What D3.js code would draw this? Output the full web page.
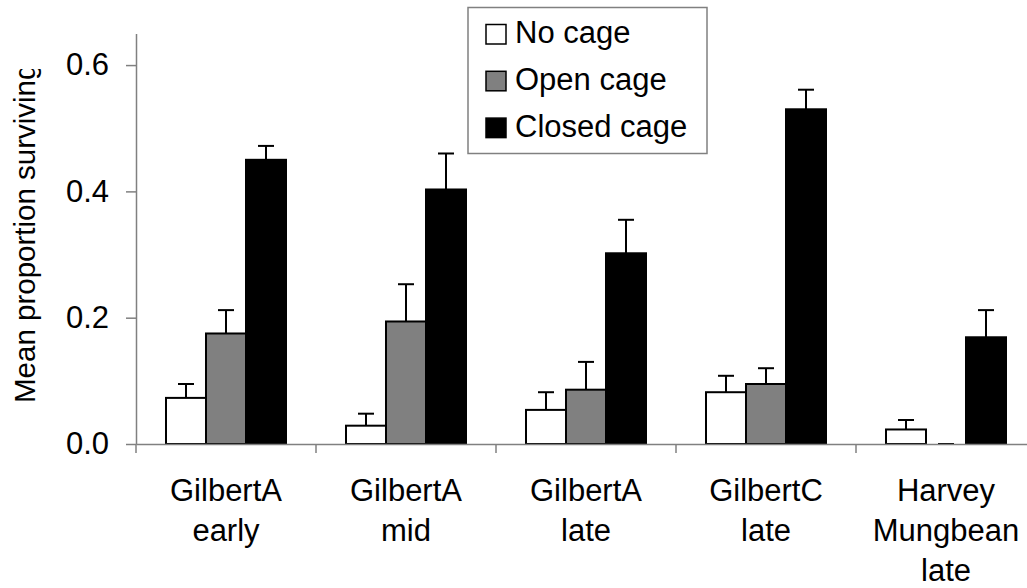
<html>
<head>
<meta charset="utf-8">
<script src="https://d3js.org/d3.v7.min.js"></script>
<style>
body { margin: 0; background: #fff; }
svg text { font-family: "Liberation Sans", Arial, sans-serif; fill: #000; }
</style>
</head>
<body>
<div id="chart"></div>
<script>
// categories (one entry per line of the label)
const groups = [["GilbertA", "early"], ["GilbertA", "mid"], ["GilbertA", "late"], ["GilbertC", "late"], ["Harvey", "Mungbean", "late"]];
const series = ["No cage", "Open cage", "Closed cage"];

const noCage = [0.073, 0.029, 0.054, 0.082, 0.023];
const noCageErr = [0.022, 0.019, 0.028, 0.026, 0.015];
const openCage = [0.175, 0.194, 0.086, 0.095, 0.0];
const openCageErr = [0.037, 0.059, 0.044, 0.025, 0.0];
const closedCage = [0.450, 0.403, 0.302, 0.530, 0.169];
const closedCageErr = [0.022, 0.057, 0.053, 0.031, 0.043];

const yTicks = [0, 0.2, 0.4, 0.6];
const colors = ["#ffffff", "#808080", "#000000"];

const w = 1027, h = 588;
const axisGrey = "#808080";
const fontSize = 31;
const tickFont = 31;

const svg = d3.select("#chart").append("svg")
  .attr("width", w).attr("height", h);

const groupKeys = groups.map(d => d.join(" "));
const xscale = d3.scaleBand().domain(groupKeys).range([136, 1036]).padding(0);
const xsub = d3.scaleBand().domain(series).range([30, 150]).padding(0);
const yscale = d3.scaleLinear().domain([0, 0.65]).range([444, 33.5]);

const values = [noCage, openCage, closedCage];
const errs = [noCageErr, openCageErr, closedCageErr];
const rows = [];
groupKeys.forEach((g, i) => {
  series.forEach((s, j) => {
    rows.push({group: g, series: s, value: values[j][i], err: errs[j][i], color: colors[j]});
  });
});

// y label, cut off at the top like the original
svg.append("clipPath").attr("id", "ylab")
  .append("rect").attr("x", 0).attr("y", 69).attr("width", 60).attr("height", h);
svg.append("g").attr("clip-path", "url(#ylab)")
  .append("text")
  .attr("transform", "translate(35, 403) rotate(-90)")
  .attr("text-anchor", "start")
  .style("font-size", "29.5px")
  .text("Mean proportion surviving");

// error bars (upward only)
const eb = svg.append("g").attr("stroke", "#000").attr("stroke-width", 2);
rows.forEach(d => {
  const cx = xscale(d.group) + xsub(d.series) + xsub.bandwidth() / 2;
  eb.append("line").attr("x1", cx).attr("x2", cx)
    .attr("y1", yscale(d.value)).attr("y2", yscale(d.value + d.err));
  eb.append("line").attr("x1", cx - 8).attr("x2", cx + 8)
    .attr("y1", yscale(d.value + d.err)).attr("y2", yscale(d.value + d.err));
});

// bars
svg.append("g").selectAll("rect")
  .data(rows.filter(d => d.value > 0))
  .enter().append("rect")
  .attr("x", d => xscale(d.group) + xsub(d.series))
  .attr("y", d => yscale(d.value))
  .attr("width", xsub.bandwidth())
  .attr("height", d => yscale(0) - yscale(d.value))
  .attr("fill", d => d.color)
  .attr("stroke", "#000")
  .attr("stroke-width", 2);

// y axis
const yaxis = d3.axisLeft(yscale).tickValues(yTicks).tickFormat(d3.format(".1f"))
  .tickSize(10).tickSizeOuter(0).tickPadding(17);
const gy = svg.append("g").attr("transform", "translate(136,0)").call(yaxis);
gy.selectAll("path, line").attr("stroke", axisGrey).attr("stroke-width", 1.5);
gy.selectAll("text").style("font-size", tickFont + "px").attr("font-family", null).attr("fill", "#000");

// x axis with ticks on band boundaries
const xaxis = d3.axisBottom(xscale).tickSize(0).tickSizeOuter(0).tickFormat("");
const gx = svg.append("g").attr("transform", "translate(0,444)").call(xaxis);
gx.select(".domain").attr("stroke", axisGrey).attr("stroke-width", 1.5);
gx.selectAll("line.sep").data(groupKeys).enter().append("line").attr("class", "sep")
  .attr("x1", d => xscale(d)).attr("x2", d => xscale(d))
  .attr("y1", 0).attr("y2", 9)
  .attr("stroke", axisGrey).attr("stroke-width", 1.5);

const labels = svg.append("g").selectAll("text")
  .data(groups).enter().append("text")
  .attr("text-anchor", "middle")
  .style("font-size", fontSize + "px");
labels.selectAll("tspan").data((d, i) => d.map(t => ({t, key: groupKeys[i]})))
  .enter().append("tspan")
  .attr("x", d => xscale(d.key) + xscale.bandwidth() / 2)
  .attr("y", (d, k) => 501 + k * 40)
  .text(d => d.t);

// legend
const lg = svg.append("g");
lg.append("rect").attr("x", 468).attr("y", 7.5).attr("width", 239).attr("height", 146)
  .attr("fill", "#fff").attr("stroke", axisGrey).attr("stroke-width", 1.5);
series.forEach((s, j) => {
  lg.append("rect").attr("x", 486).attr("y", 24.5 + j * 46.8).attr("width", 20).attr("height", 19.5)
    .attr("fill", colors[j]).attr("stroke", "#000").attr("stroke-width", 1.5);
  lg.append("text").attr("x", 515).attr("y", 43 + j * 46.8)
    .style("font-size", fontSize + "px").text(s);
});
</script>
</body>
</html>
